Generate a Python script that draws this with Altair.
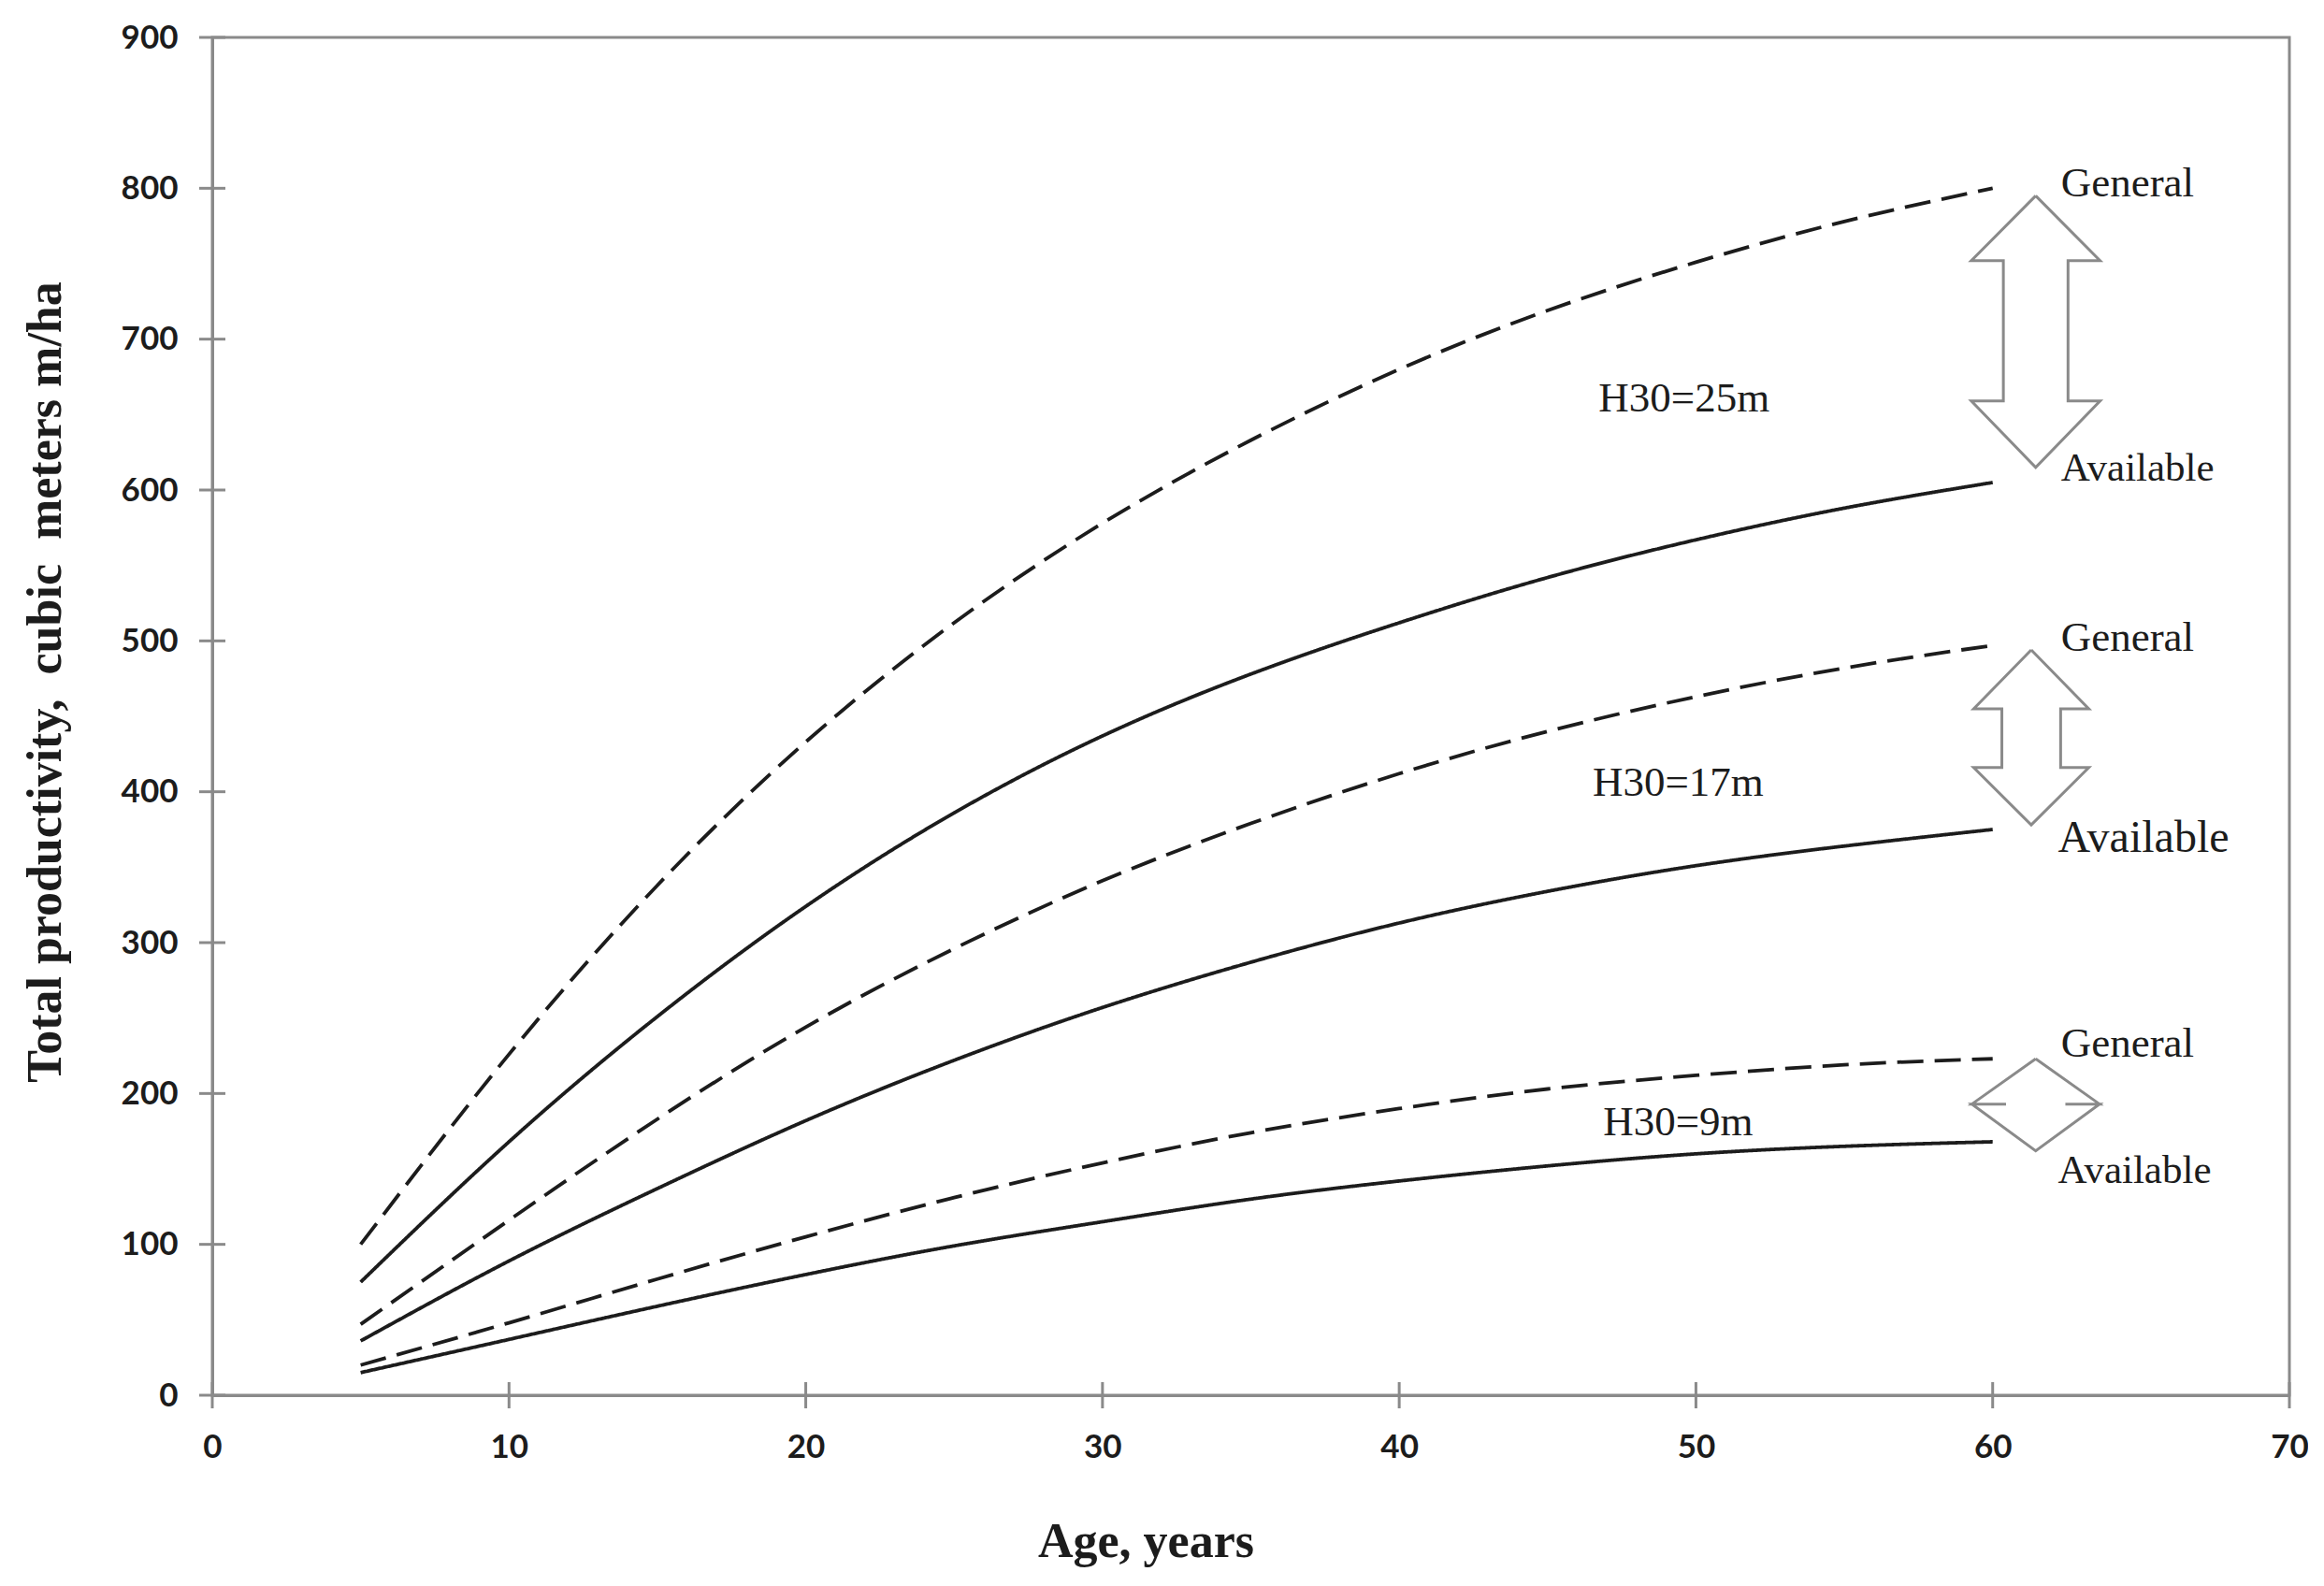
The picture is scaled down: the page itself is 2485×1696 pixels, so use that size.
import altair as alt
import pandas as pd

# ---- data ----
ages = [5, 10, 15, 20, 25, 30, 35, 40, 45, 50, 55, 60]
general_25 = [100, 226, 338, 433, 512, 578, 633, 680, 719, 751, 778, 800]
available_25 = [75, 168, 251, 324, 386, 437, 478, 512, 542, 567, 588, 605]
general_17 = [47, 116, 183, 244, 296, 341, 379, 412, 440, 463, 482, 497]
available_17 = [36, 89, 137, 182, 222, 257, 287, 313, 334, 351, 364, 375]
general_9 = [20, 48, 77, 105, 131, 154, 174, 190, 203, 212, 219, 223]
available_9 = [15, 37, 59, 80, 99, 115, 130, 142, 152, 160, 165, 168]

series_names = ["General H30=25m", "Available H30=25m", "General H30=17m",
                "Available H30=17m", "General H30=9m", "Available H30=9m"]
series_kind = ["General", "Available", "General", "Available", "General", "Available"]
series_values = [general_25, available_25, general_17, available_17, general_9, available_9]

# site-index labels
site_text = ["H30=25m", "H30=17m", "H30=9m"]
site_x = [49.6, 49.4, 49.4]
site_y = [661, 406, 181]

# arrow end labels
end_text = ["General", "Available", "General", "Available", "General", "Available"]
end_x = [62.3, 62.3, 62.3, 62.2, 62.3, 62.2]
end_y = [803, 614, 502, 369, 233, 149]
end_size = [45, 43, 45, 48, 45, 43]

# double-headed hollow arrows (data units)
arrow_cx = [61.45, 61.3, 61.45]
arrow_tip_top = [795, 494, 223]
arrow_head_top = [752, 455, 193]
arrow_head_bot = [659, 416, 193]
arrow_tip_bot = [615, 378, 162]
arrow_head_hw = [2.17, 1.94, 2.15]
arrow_shaft_hw = [1.09, 0.99, 1.0]

x_ticks = [0, 10, 20, 30, 40, 50, 60, 70]
y_ticks = [0, 100, 200, 300, 400, 500, 600, 700, 800, 900]

# ---- build tables ----
rows = []
for name, kind, vals in zip(series_names, series_kind, series_values):
    for a, v in zip(ages, vals):
        rows.append({"series": name, "kind": kind, "age": a, "value": v})
df = pd.DataFrame(rows)

arrow_rows = []
for i in range(len(arrow_cx)):
    cx, hh, sh = arrow_cx[i], arrow_head_hw[i], arrow_shaft_hw[i]
    tt, ht, hb, tb = arrow_tip_top[i], arrow_head_top[i], arrow_head_bot[i], arrow_tip_bot[i]
    pts = [(cx, tt), (cx + hh, ht), (cx + sh, ht), (cx + sh, hb), (cx + hh, hb),
           (cx, tb), (cx - hh, hb), (cx - sh, hb), (cx - sh, ht), (cx - hh, ht), (cx, tt)]
    for k, (px, py) in enumerate(pts):
        arrow_rows.append({"arrow": i, "k": k, "ax": px, "ay": py})
arrows_df = pd.DataFrame(arrow_rows)

site_df = pd.DataFrame({"t": site_text, "x": site_x, "y": site_y})
end_df = pd.DataFrame({"t": end_text, "x": end_x, "y": end_y, "s": end_size})
xt_df = pd.DataFrame({"x": x_ticks, "y": [0] * len(x_ticks)})
yt_df = pd.DataFrame({"x": [0] * len(y_ticks), "y": y_ticks})

AXIS_GRAY = "#8a8a8a"
INK = "#1c1c1c"

xscale = alt.Scale(domain=[0, 70], nice=False, zero=False)
yscale = alt.Scale(domain=[0, 900], nice=False)

x_enc = alt.X("age:Q", scale=xscale, axis=alt.Axis(
    title="Age, years", values=x_ticks, format="d", grid=False, ticks=False,
    labelFlush=False, labelOverlap=False,
    domainColor=AXIS_GRAY, domainWidth=3, labelFont="Lato", labelFontWeight="bold",
    labelFontSize=35, labelColor=INK, labelPadding=38,
    titleFont="Liberation Serif", titleFontWeight="bold", titleFontSize=52,
    titleColor=INK, titleX=998, titleY=156, titleAlign="center", titleBaseline="middle"))
y_enc = alt.Y("value:Q", scale=yscale, axis=alt.Axis(
    title="Total productivity,\u00a0 cubic\u00a0 meters m/ha", values=y_ticks, format="d",
    grid=False, ticks=False, labelFlush=False, labelOverlap=False,
    domainColor=AXIS_GRAY, domainWidth=3,
    labelFont="Lato", labelFontWeight="bold", labelFontSize=35, labelColor=INK,
    labelPadding=37, titleFont="Liberation Serif", titleFontWeight="bold",
    titleFontSize=52, titleColor=INK, titleX=-179, titleY=689, titleAlign="center",
    titleBaseline="middle", titleAngle=-90))

lines = alt.Chart(df).mark_line(interpolate="natural", color=INK, strokeWidth=3.8).encode(
    x=x_enc, y=y_enc, detail="series:N",
    strokeDash=alt.StrokeDash("kind:N", scale=alt.Scale(
        domain=["General", "Available"], range=[[28, 12], [1, 0]]), legend=None))

arrows = alt.Chart(arrows_df).mark_line(color=AXIS_GRAY, strokeWidth=3, strokeJoin="miter").encode(
    x=alt.X("ax:Q", scale=xscale), y=alt.Y("ay:Q", scale=yscale),
    detail="arrow:N", order="k:Q")

site_labels = alt.Chart(site_df).mark_text(font="Liberation Serif", fontSize=45,
                                           color=INK, align="center", baseline="middle").encode(
    x=alt.X("x:Q", scale=xscale), y=alt.Y("y:Q", scale=yscale), text="t:N")

end_labels = alt.Chart(end_df).mark_text(font="Liberation Serif", color=INK,
                                         align="left", baseline="middle").encode(
    x=alt.X("x:Q", scale=xscale), y=alt.Y("y:Q", scale=yscale), text="t:N",
    size=alt.Size("s:Q", scale=None, legend=None))

xticks = alt.Chart(xt_df).mark_tick(orient="vertical", size=28, thickness=3, color=AXIS_GRAY,
                                    opacity=1).encode(
    x=alt.X("x:Q", scale=xscale), y=alt.Y("y:Q", scale=yscale))
yticks = alt.Chart(yt_df).mark_tick(orient="horizontal", size=28, thickness=3, color=AXIS_GRAY,
                                    opacity=1).encode(
    x=alt.X("x:Q", scale=xscale), y=alt.Y("y:Q", scale=yscale))

chart = alt.layer(lines, arrows, site_labels, end_labels, xticks, yticks).properties(
    width=2221, height=1452, autosize=alt.AutoSizeParams(type="none"),
    padding={"left": 219, "top": 32, "right": 20, "bottom": 190},
    background="white"
).configure_view(stroke=AXIS_GRAY, strokeWidth=3)

chart.save("out.html", embed_options={"renderer": "svg", "actions": False})
